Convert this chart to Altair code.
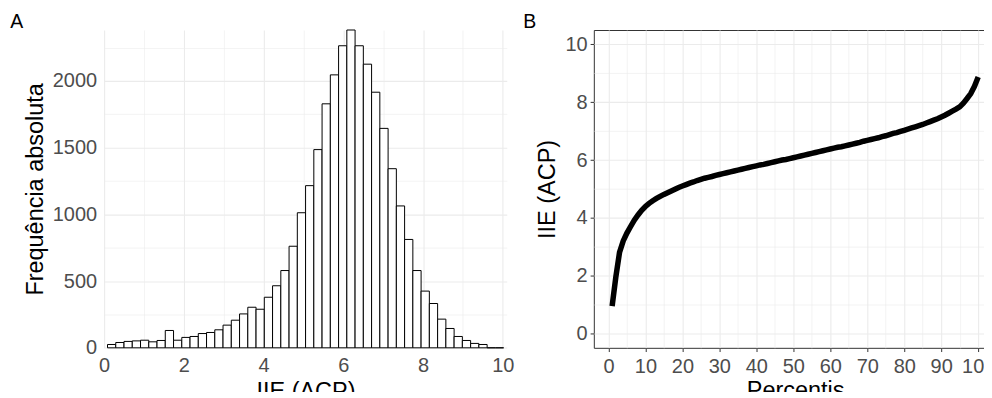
import altair as alt
import pandas as pd

# ---------------- data ----------------
# Panel A: histogram of IIE (ACP)
counts = [25, 40, 48, 52, 57, 45, 55, 130, 57, 78, 85, 107, 115, 135, 170, 207,
          254, 304, 289, 379, 465, 579, 761, 1012, 1215, 1485, 1828, 2045, 2263,
          2381, 2263, 2125, 1915, 1644, 1342, 1063, 812, 579, 425, 332, 215, 145,
          85, 55, 33, 25, 0, 0]
bin_start = 0.085
bin_width = 0.207

# Panel B: IIE (ACP) by percentile
percentis = list(range(1, 101))
iie = [0.94, 1.95, 2.80, 3.20, 3.47, 3.70, 3.92, 4.10, 4.26, 4.39,
       4.50, 4.59, 4.67, 4.74, 4.81, 4.87, 4.93, 4.99, 5.05, 5.10,
       5.15, 5.20, 5.24, 5.29, 5.33, 5.37, 5.40, 5.43, 5.47, 5.50,
       5.53, 5.56, 5.59, 5.62, 5.65, 5.68, 5.71, 5.74, 5.77, 5.80,
       5.83, 5.85, 5.88, 5.91, 5.94, 5.97, 6.00, 6.02, 6.05, 6.08,
       6.11, 6.14, 6.17, 6.20, 6.23, 6.26, 6.29, 6.32, 6.35, 6.38,
       6.41, 6.44, 6.46, 6.49, 6.52, 6.55, 6.58, 6.61, 6.65, 6.68,
       6.71, 6.74, 6.77, 6.81, 6.84, 6.88, 6.92, 6.95, 6.99, 7.03,
       7.07, 7.11, 7.15, 7.19, 7.23, 7.28, 7.33, 7.38, 7.43, 7.49,
       7.55, 7.62, 7.69, 7.76, 7.84, 7.97, 8.13, 8.30, 8.55, 8.87]

hist_df = pd.DataFrame({
    "lo": [bin_start + i * bin_width for i in range(len(counts))],
    "hi": [bin_start + (i + 1) * bin_width for i in range(len(counts))],
    "n": counts,
})
curve_df = pd.DataFrame({"p": percentis, "v": iie})

FONT = "Liberation Sans"
LABEL_COLOR = "#4D4D4D"
GRID = "#EBEBEB"
W = 403.4
H = 318.4


def grid_width(test):
    return {"condition": {"test": test, "value": 1.1}, "value": 0.6}


# ---------------- panel A ----------------
xA = alt.X("lo:Q",
           scale=alt.Scale(domain=[0, 10.1], nice=False, zero=False),
           axis=alt.Axis(values=list(range(0, 11)), format="d",
                         labelExpr="datum.value % 2 == 0 ? datum.label : ''",
                         ticks=False, tickSize=0, domain=False,
                         grid=True, gridColor=GRID,
                         gridWidth=grid_width("datum.value % 2 == 0"),
                         labelFont=FONT, labelFontSize=20, labelColor=LABEL_COLOR,
                         labelPadding=7.8, labelFlush=False, labelOverlap=False,
                         labelBound=False,
                         title="IIE (ACP)", titleFont=FONT, titleFontSize=23.5,
                         titleFontWeight="normal", titleColor="black",
                         titleBaseline="top", titleY=31.5))
yA = alt.Y("n:Q",
           scale=alt.Scale(domain=[0, 2381], nice=False),
           axis=alt.Axis(values=list(range(0, 2251, 250)), format="d",
                         labelExpr="datum.value % 500 == 0 ? datum.label : ''",
                         ticks=False, tickSize=0, domain=False,
                         grid=True, gridColor=GRID,
                         gridWidth=grid_width("datum.value % 500 == 0"),
                         labelFont=FONT, labelFontSize=20, labelColor=LABEL_COLOR,
                         labelPadding=7.5, labelOverlap=False, labelBound=False,
                         title="Frequência absoluta", titleFont=FONT,
                         titleFontSize=23.5, titleFontWeight="normal",
                         titleColor="black", titleBaseline="alphabetic",
                         titleAngle=270, titleX=-61.5, titleY=H / 2,
                         titleAlign="center"))

bars = alt.Chart(hist_df).mark_rect(fill="white", stroke="black", strokeWidth=1).encode(
    x=xA, x2="hi:Q", y=yA, y2=alt.datum(0)
)
labelA = alt.Chart(pd.DataFrame({"t": ["A"]})).mark_text(
    text="A", align="left", baseline="alphabetic", fontSize=19.5, font=FONT, color="black"
).encode(x=alt.value(-94), y=alt.value(-1.6))

panelA = alt.layer(bars, labelA).properties(
    width=W, height=H, view=alt.ViewBackground(stroke="transparent")
)

# ---------------- panel B ----------------
xB = alt.X("p:Q",
           scale=alt.Scale(domain=[-3.95, 104.95], nice=False, zero=False),
           axis=alt.Axis(values=list(range(0, 101, 5)), format="d",
                         labelExpr="datum.value % 10 == 0 ? datum.label : ''",
                         ticks=True, tickSize=3.7, tickColor="#333333", tickWidth=1,
                         tickOpacity={"condition": {"test": "datum.value % 10 == 0", "value": 1}, "value": 0},
                         domain=False, grid=True, gridColor=GRID,
                         gridWidth=grid_width("datum.value % 10 == 0"),
                         labelFont=FONT, labelFontSize=20, labelColor=LABEL_COLOR,
                         labelPadding=5.4, labelFlush=False, labelOverlap=False,
                         labelBound=False,
                         title="Percentis", titleFont=FONT, titleFontSize=23.5,
                         titleFontWeight="normal", titleColor="black",
                         titleBaseline="top", titleY=30.9))
yB = alt.Y("v:Q",
           scale=alt.Scale(domain=[-0.5, 10.5], nice=False, zero=False),
           axis=alt.Axis(values=list(range(0, 11)), format="d",
                         labelExpr="datum.value % 2 == 0 ? datum.label : ''",
                         ticks=True, tickSize=3.7, tickColor="#333333", tickWidth=1,
                         tickOpacity={"condition": {"test": "datum.value % 2 == 0", "value": 1}, "value": 0},
                         domain=False, grid=True, gridColor=GRID,
                         gridWidth=grid_width("datum.value % 2 == 0"),
                         labelFont=FONT, labelFontSize=20, labelColor=LABEL_COLOR,
                         labelPadding=3.0, labelOverlap=False, labelBound=False,
                         title="IIE (ACP)", titleFont=FONT, titleFontSize=23.5,
                         titleFontWeight="normal", titleColor="black",
                         titleBaseline="alphabetic", titleAngle=270,
                         titleX=-39.5, titleY=H / 2, titleAlign="center"))

line = alt.Chart(curve_df).mark_line(color="black", strokeWidth=5.5).encode(x=xB, y=yB)
labelB = alt.Chart(pd.DataFrame({"t": ["B"]})).mark_text(
    text="B", align="left", baseline="alphabetic", fontSize=19.5, font=FONT, color="black"
).encode(x=alt.value(-70.6), y=alt.value(-1.6))

panelB = alt.layer(line, labelB).properties(
    width=W, height=H, view=alt.ViewBackground(stroke="#333333", strokeWidth=1)
)

# negative right/bottom padding: the reference is cropped at its right and bottom edges
chart = alt.hconcat(panelA, panelB, spacing=86.6, bounds="flush").properties(
    padding={"left": 1.3, "top": 2.7, "right": -13.5, "bottom": -12}
).configure(font=FONT)

chart.save("out.html", embed_options={"renderer": "svg", "actions": False})
